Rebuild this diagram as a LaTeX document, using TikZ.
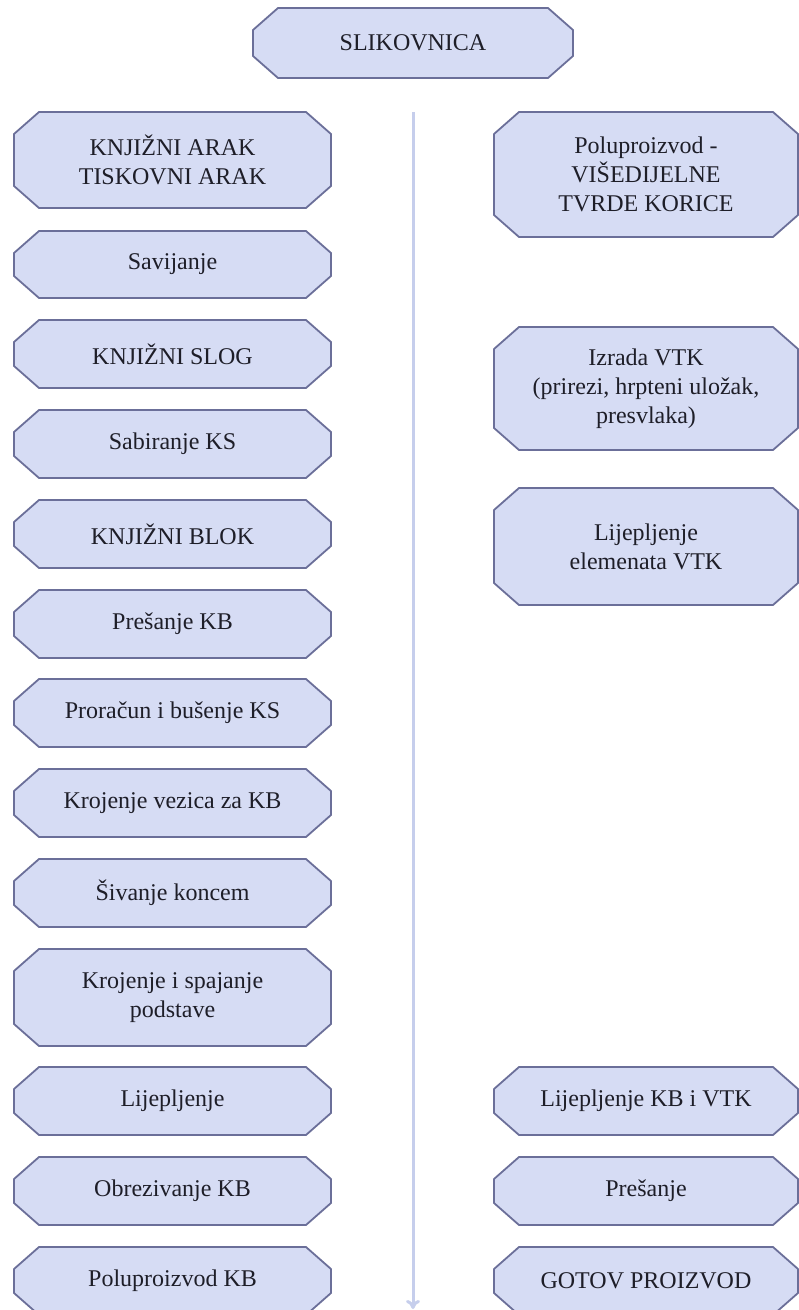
\documentclass[tikz,border=0pt]{standalone}
\usepackage{fontspec}
\setmainfont{Liberation Serif}
\usetikzlibrary{arrows.meta,backgrounds}
\definecolor{boxfill}{HTML}{D6DCF4}
\definecolor{boxdraw}{HTML}{6B6F99}
\definecolor{txt}{HTML}{1E1E28}
\definecolor{axis}{HTML}{C6CEEC}
\newlength\chx \setlength\chx{25pt}
\newlength\chy \setlength\chy{22pt}
\tikzset{
  boxtext/.style={inner sep=0pt, outer sep=0pt, align=center, text=txt,
    font=\fontsize{24}{29}\selectfont},
  boxline/.style={draw=boxdraw, fill=boxfill, line width=1.8pt, line join=round},
  axisline/.style={draw=axis, line width=3pt, -{To[length=9pt,width=14pt]}}
}
\newcommand\obox[6]{%
  \node[boxtext, minimum width=#4, minimum height=#5] (#1) at (#2,#3) {#6};
  \begin{scope}[on background layer]
  \draw[boxline] ([xshift=\chx]#1.north west) -- ([xshift=-\chx]#1.north east)
    -- ([yshift=-\chy]#1.north east) -- ([yshift=\chy]#1.south east)
    -- ([xshift=-\chx]#1.south east) -- ([xshift=\chx]#1.south west)
    -- ([yshift=\chy]#1.south west) -- ([yshift=-\chy]#1.north west) -- cycle;
  \end{scope}
}
\begin{document}
\begin{tikzpicture}[x=1pt,y=-1pt]
\clip (0,0) rectangle (799,1310);
% top
\obox{top}{413}{43}{320pt}{70pt}{SLIKOVNICA}
% left column
\obox{l1}{172.5}{160}{317pt}{96pt}{KNJIŽNI ARAK\\TISKOVNI ARAK}
\obox{l2}{172.5}{264.5}{317pt}{67pt}{Savijanje}
\obox{l3}{172.5}{354}{317pt}{68pt}{KNJIŽNI SLOG}
\obox{l4}{172.5}{444}{317pt}{68pt}{Sabiranje KS}
\obox{l5}{172.5}{534}{317pt}{68pt}{KNJIŽNI BLOK}
\obox{l6}{172.5}{624}{317pt}{68pt}{Prešanje KB}
\obox{l7}{172.5}{713}{317pt}{68pt}{Proračun i bušenje KS}
\obox{l8}{172.5}{803}{317pt}{68pt}{Krojenje vezica za KB}
\obox{l9}{172.5}{893}{317pt}{68pt}{Šivanje koncem}
\obox{l10}{172.5}{997.5}{317pt}{97pt}{Krojenje i spajanje\\podstave}
\obox{l11}{172.5}{1101}{317pt}{68pt}{Lijepljenje}
\obox{l12}{172.5}{1191}{317pt}{68pt}{Obrezivanje KB}
\obox{l13}{172.5}{1281}{317pt}{68pt}{Poluproizvod KB}
% right column
\obox{r1}{646}{174.5}{304pt}{125pt}{Poluproizvod -\\VIŠEDIJELNE\\TVRDE KORICE}
\obox{r2}{646}{388.5}{304pt}{123pt}{Izrada VTK\\(prirezi, hrpteni uložak,\\presvlaka)}
\obox{r3}{646}{546.5}{304pt}{117pt}{Lijepljenje\\elemenata VTK}
\obox{r4}{646}{1101}{304pt}{68pt}{Lijepljenje KB i VTK}
\obox{r5}{646}{1191}{304pt}{68pt}{Prešanje}
\obox{r6}{646}{1281}{304pt}{68pt}{GOTOV PROIZVOD}
% central axis
\coordinate (axtop) at (413,112);
\coordinate (axbot) at (413,1309);
\draw[axisline] (axtop) -- (axbot);
\end{tikzpicture}
\end{document}
